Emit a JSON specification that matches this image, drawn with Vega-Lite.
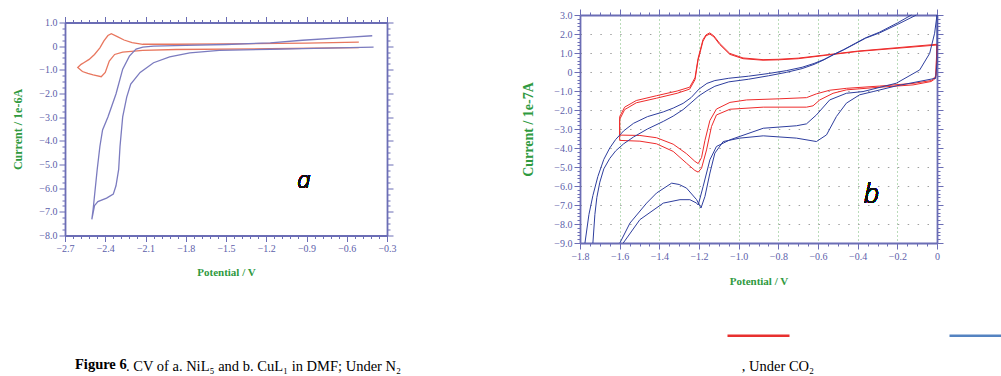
{
"$schema": "https://vega.github.io/schema/vega-lite/v6.json",
"background": "white",
"padding": {"left": 11, "top": 8, "right": 0, "bottom": 0},
"title": {"text": "Figure 6", "orient": "bottom", "anchor": "start", "frame": "group", "font": "Liberation Serif", "fontSize": 14.5, "fontWeight": "bold", "color": "black", "dx": 10, "dy": -20},
"datasets": {
"a": [
{"c":"aN2","t":"aN2","i":1,"E":-0.51,"I":0.17},{"c":"aN2","t":"aN2","i":2,"E":-0.9,"I":0.13},{"c":"aN2","t":"aN2","i":3,"E":-1.5,"I":0.1},{"c":"aN2","t":"aN2","i":4,"E":-1.87,"I":0.08},{"c":"aN2","t":"aN2","i":5,"E":-2.12,"I":0.08},{"c":"aN2","t":"aN2","i":6,"E":-2.2,"I":0.15},{"c":"aN2","t":"aN2","i":7,"E":-2.26,"I":0.26},{"c":"aN2","t":"aN2","i":8,"E":-2.31,"I":0.4},{"c":"aN2","t":"aN2","i":9,"E":-2.355,"I":0.53},{"c":"aN2","t":"aN2","i":10,"E":-2.38,"I":0.45},{"c":"aN2","t":"aN2","i":11,"E":-2.41,"I":0.22},{"c":"aN2","t":"aN2","i":12,"E":-2.44,"I":-0.07},{"c":"aN2","t":"aN2","i":13,"E":-2.48,"I":-0.35},{"c":"aN2","t":"aN2","i":14,"E":-2.52,"I":-0.56},{"c":"aN2","t":"aN2","i":15,"E":-2.56,"I":-0.7},{"c":"aN2","t":"aN2","i":16,"E":-2.58,"I":-0.77},{"c":"aN2","t":"aN2","i":17,"E":-2.605,"I":-0.9},{"c":"aN2","t":"aN2","i":18,"E":-2.57,"I":-1.07},{"c":"aN2","t":"aN2","i":19,"E":-2.53,"I":-1.15},{"c":"aN2","t":"aN2","i":20,"E":-2.49,"I":-1.21},{"c":"aN2","t":"aN2","i":21,"E":-2.43,"I":-1.29},{"c":"aN2","t":"aN2","i":22,"E":-2.4,"I":-1.11},{"c":"aN2","t":"aN2","i":23,"E":-2.37,"I":-0.63},{"c":"aN2","t":"aN2","i":24,"E":-2.33,"I":-0.35},{"c":"aN2","t":"aN2","i":25,"E":-2.27,"I":-0.25},{"c":"aN2","t":"aN2","i":26,"E":-2.12,"I":-0.18},{"c":"aN2","t":"aN2","i":27,"E":-1.87,"I":-0.14},{"c":"aN2","t":"aN2","i":28,"E":-1.17,"I":-0.11},{"c":"aN2","t":"aN2","i":29,"E":-0.68,"I":-0.07},{"c":"aN2","t":"aN2","i":30,"E":-0.51,"I":-0.06},
{"c":"aCO2","t":"aCO2","i":1,"E":-0.41,"I":0.44},{"c":"aCO2","t":"aCO2","i":2,"E":-0.6,"I":0.37},{"c":"aCO2","t":"aCO2","i":3,"E":-0.93,"I":0.25},{"c":"aCO2","t":"aCO2","i":4,"E":-1.17,"I":0.14},{"c":"aCO2","t":"aCO2","i":5,"E":-1.5,"I":0.07},{"c":"aCO2","t":"aCO2","i":6,"E":-1.8,"I":0.03},{"c":"aCO2","t":"aCO2","i":7,"E":-2.04,"I":0.0},{"c":"aCO2","t":"aCO2","i":8,"E":-2.12,"I":-0.04},{"c":"aCO2","t":"aCO2","i":9,"E":-2.17,"I":-0.12},{"c":"aCO2","t":"aCO2","i":10,"E":-2.22,"I":-0.42},{"c":"aCO2","t":"aCO2","i":11,"E":-2.27,"I":-0.97},{"c":"aCO2","t":"aCO2","i":12,"E":-2.32,"I":-2.02},{"c":"aCO2","t":"aCO2","i":13,"E":-2.38,"I":-2.99},{"c":"aCO2","t":"aCO2","i":14,"E":-2.42,"I":-3.54},{"c":"aCO2","t":"aCO2","i":15,"E":-2.44,"I":-4.24},{"c":"aCO2","t":"aCO2","i":16,"E":-2.46,"I":-5.21},{"c":"aCO2","t":"aCO2","i":17,"E":-2.48,"I":-6.32},{"c":"aCO2","t":"aCO2","i":18,"E":-2.49,"I":-6.88},{"c":"aCO2","t":"aCO2","i":19,"E":-2.5,"I":-7.32},{"c":"aCO2","t":"aCO2","i":20,"E":-2.48,"I":-6.74},{"c":"aCO2","t":"aCO2","i":21,"E":-2.455,"I":-6.57},{"c":"aCO2","t":"aCO2","i":22,"E":-2.39,"I":-6.42},{"c":"aCO2","t":"aCO2","i":23,"E":-2.34,"I":-6.25},{"c":"aCO2","t":"aCO2","i":24,"E":-2.32,"I":-5.9},{"c":"aCO2","t":"aCO2","i":25,"E":-2.3,"I":-5.21},{"c":"aCO2","t":"aCO2","i":26,"E":-2.29,"I":-4.24},{"c":"aCO2","t":"aCO2","i":27,"E":-2.27,"I":-2.99},{"c":"aCO2","t":"aCO2","i":28,"E":-2.24,"I":-2.15},{"c":"aCO2","t":"aCO2","i":29,"E":-2.21,"I":-1.6},{"c":"aCO2","t":"aCO2","i":30,"E":-2.14,"I":-1.11},{"c":"aCO2","t":"aCO2","i":31,"E":-2.04,"I":-0.7},{"c":"aCO2","t":"aCO2","i":32,"E":-1.92,"I":-0.45},{"c":"aCO2","t":"aCO2","i":33,"E":-1.77,"I":-0.28},{"c":"aCO2","t":"aCO2","i":34,"E":-1.55,"I":-0.18},{"c":"aCO2","t":"aCO2","i":35,"E":-1.17,"I":-0.13},{"c":"aCO2","t":"aCO2","i":36,"E":-0.93,"I":-0.1},{"c":"aCO2","t":"aCO2","i":37,"E":-0.4,"I":-0.04}
],
"b": [
{"c":"bN2","t":"bN2a","i":1,"E":0,"I":1.46},{"c":"bN2","t":"bN2a","i":2,"E":-0.2,"I":1.28},{"c":"bN2","t":"bN2a","i":3,"E":-0.4,"I":1.1},{"c":"bN2","t":"bN2a","i":4,"E":-0.56,"I":0.9},{"c":"bN2","t":"bN2a","i":5,"E":-0.7,"I":0.73},{"c":"bN2","t":"bN2a","i":6,"E":-0.8,"I":0.67},{"c":"bN2","t":"bN2a","i":7,"E":-0.877,"I":0.65},{"c":"bN2","t":"bN2a","i":8,"E":-0.978,"I":0.74},{"c":"bN2","t":"bN2a","i":9,"E":-1.045,"I":0.98},{"c":"bN2","t":"bN2a","i":10,"E":-1.096,"I":1.51},{"c":"bN2","t":"bN2a","i":11,"E":-1.125,"I":1.9},{"c":"bN2","t":"bN2a","i":12,"E":-1.146,"I":2.06},{"c":"bN2","t":"bN2a","i":13,"E":-1.165,"I":1.95},{"c":"bN2","t":"bN2a","i":14,"E":-1.18,"I":1.7},{"c":"bN2","t":"bN2a","i":15,"E":-1.205,"I":0.7},{"c":"bN2","t":"bN2a","i":16,"E":-1.22,"I":-0.3},{"c":"bN2","t":"bN2a","i":17,"E":-1.247,"I":-0.8},{"c":"bN2","t":"bN2a","i":18,"E":-1.31,"I":-1.0},{"c":"bN2","t":"bN2a","i":19,"E":-1.415,"I":-1.25},{"c":"bN2","t":"bN2a","i":20,"E":-1.516,"I":-1.5},{"c":"bN2","t":"bN2a","i":21,"E":-1.575,"I":-1.85},{"c":"bN2","t":"bN2a","i":22,"E":-1.6,"I":-2.35},{"c":"bN2","t":"bN2a","i":23,"E":-1.6,"I":-3.32},{"c":"bN2","t":"bN2a","i":24,"E":-1.498,"I":-3.34},{"c":"bN2","t":"bN2a","i":25,"E":-1.414,"I":-3.46},{"c":"bN2","t":"bN2a","i":26,"E":-1.33,"I":-3.8},{"c":"bN2","t":"bN2a","i":27,"E":-1.263,"I":-4.3},{"c":"bN2","t":"bN2a","i":28,"E":-1.221,"I":-4.7},{"c":"bN2","t":"bN2a","i":29,"E":-1.204,"I":-4.82},{"c":"bN2","t":"bN2a","i":30,"E":-1.187,"I":-4.5},{"c":"bN2","t":"bN2a","i":31,"E":-1.17,"I":-3.6},{"c":"bN2","t":"bN2a","i":32,"E":-1.145,"I":-2.55},{"c":"bN2","t":"bN2a","i":33,"E":-1.112,"I":-1.95},{"c":"bN2","t":"bN2a","i":34,"E":-1.044,"I":-1.6},{"c":"bN2","t":"bN2a","i":35,"E":-0.96,"I":-1.47},{"c":"bN2","t":"bN2a","i":36,"E":-0.793,"I":-1.41},{"c":"bN2","t":"bN2a","i":37,"E":-0.658,"I":-1.35},{"c":"bN2","t":"bN2a","i":38,"E":-0.608,"I":-1.15},{"c":"bN2","t":"bN2a","i":39,"E":-0.541,"I":-0.96},{"c":"bN2","t":"bN2a","i":40,"E":-0.457,"I":-0.86},{"c":"bN2","t":"bN2a","i":41,"E":-0.289,"I":-0.74},{"c":"bN2","t":"bN2a","i":42,"E":-0.121,"I":-0.6},{"c":"bN2","t":"bN2a","i":43,"E":-0.029,"I":-0.45},{"c":"bN2","t":"bN2a","i":44,"E":-0.005,"I":-0.2},{"c":"bN2","t":"bN2a","i":45,"E":0,"I":1.46},
{"c":"bN2","t":"bN2b","i":1,"E":0,"I":1.42},{"c":"bN2","t":"bN2b","i":2,"E":-0.2,"I":1.25},{"c":"bN2","t":"bN2b","i":3,"E":-0.4,"I":1.08},{"c":"bN2","t":"bN2b","i":4,"E":-0.56,"I":0.88},{"c":"bN2","t":"bN2b","i":5,"E":-0.7,"I":0.7},{"c":"bN2","t":"bN2b","i":6,"E":-0.8,"I":0.64},{"c":"bN2","t":"bN2b","i":7,"E":-0.877,"I":0.62},{"c":"bN2","t":"bN2b","i":8,"E":-0.978,"I":0.7},{"c":"bN2","t":"bN2b","i":9,"E":-1.045,"I":0.93},{"c":"bN2","t":"bN2b","i":10,"E":-1.096,"I":1.45},{"c":"bN2","t":"bN2b","i":11,"E":-1.125,"I":1.85},{"c":"bN2","t":"bN2b","i":12,"E":-1.146,"I":2.0},{"c":"bN2","t":"bN2b","i":13,"E":-1.165,"I":1.9},{"c":"bN2","t":"bN2b","i":14,"E":-1.18,"I":1.62},{"c":"bN2","t":"bN2b","i":15,"E":-1.205,"I":0.6},{"c":"bN2","t":"bN2b","i":16,"E":-1.22,"I":-0.4},{"c":"bN2","t":"bN2b","i":17,"E":-1.247,"I":-0.9},{"c":"bN2","t":"bN2b","i":18,"E":-1.31,"I":-1.12},{"c":"bN2","t":"bN2b","i":19,"E":-1.415,"I":-1.38},{"c":"bN2","t":"bN2b","i":20,"E":-1.516,"I":-1.62},{"c":"bN2","t":"bN2b","i":21,"E":-1.575,"I":-1.98},{"c":"bN2","t":"bN2b","i":22,"E":-1.6,"I":-2.5},{"c":"bN2","t":"bN2b","i":23,"E":-1.6,"I":-3.6},{"c":"bN2","t":"bN2b","i":24,"E":-1.498,"I":-3.64},{"c":"bN2","t":"bN2b","i":25,"E":-1.414,"I":-3.78},{"c":"bN2","t":"bN2b","i":26,"E":-1.33,"I":-4.18},{"c":"bN2","t":"bN2b","i":27,"E":-1.263,"I":-4.8},{"c":"bN2","t":"bN2b","i":28,"E":-1.221,"I":-5.18},{"c":"bN2","t":"bN2b","i":29,"E":-1.204,"I":-5.27},{"c":"bN2","t":"bN2b","i":30,"E":-1.187,"I":-5.06},{"c":"bN2","t":"bN2b","i":31,"E":-1.162,"I":-4.1},{"c":"bN2","t":"bN2b","i":32,"E":-1.137,"I":-2.87},{"c":"bN2","t":"bN2b","i":33,"E":-1.112,"I":-2.26},{"c":"bN2","t":"bN2b","i":34,"E":-1.044,"I":-1.96},{"c":"bN2","t":"bN2b","i":35,"E":-0.876,"I":-1.85},{"c":"bN2","t":"bN2b","i":36,"E":-0.658,"I":-1.85},{"c":"bN2","t":"bN2b","i":37,"E":-0.625,"I":-1.78},{"c":"bN2","t":"bN2b","i":38,"E":-0.591,"I":-1.47},{"c":"bN2","t":"bN2b","i":39,"E":-0.524,"I":-1.12},{"c":"bN2","t":"bN2b","i":40,"E":-0.457,"I":-0.94},{"c":"bN2","t":"bN2b","i":41,"E":-0.289,"I":-0.8},{"c":"bN2","t":"bN2b","i":42,"E":-0.121,"I":-0.68},{"c":"bN2","t":"bN2b","i":43,"E":-0.029,"I":-0.5},{"c":"bN2","t":"bN2b","i":44,"E":-0.007,"I":-0.33},{"c":"bN2","t":"bN2b","i":45,"E":0,"I":1.42},
{"c":"bCO2","t":"bt1","i":1,"E":-0.104,"I":3.0},{"c":"bCO2","t":"bt1","i":2,"E":-0.2,"I":2.5},{"c":"bCO2","t":"bt1","i":3,"E":-0.289,"I":2.06},{"c":"bCO2","t":"bt1","i":4,"E":-0.36,"I":1.78},{"c":"bCO2","t":"bt1","i":5,"E":-0.41,"I":1.5},{"c":"bCO2","t":"bt1","i":6,"E":-0.47,"I":1.17},{"c":"bCO2","t":"bt1","i":7,"E":-0.52,"I":0.92},{"c":"bCO2","t":"bt1","i":8,"E":-0.57,"I":0.66},{"c":"bCO2","t":"bt1","i":9,"E":-0.62,"I":0.45},{"c":"bCO2","t":"bt1","i":10,"E":-0.68,"I":0.25},{"c":"bCO2","t":"bt1","i":11,"E":-0.76,"I":0.07},{"c":"bCO2","t":"bt1","i":12,"E":-0.85,"I":-0.08},{"c":"bCO2","t":"bt1","i":13,"E":-0.95,"I":-0.22},{"c":"bCO2","t":"bt1","i":14,"E":-1.05,"I":-0.33},{"c":"bCO2","t":"bt1","i":15,"E":-1.12,"I":-0.45},{"c":"bCO2","t":"bt1","i":16,"E":-1.16,"I":-0.6},{"c":"bCO2","t":"bt1","i":17,"E":-1.2,"I":-0.9},{"c":"bCO2","t":"bt1","i":18,"E":-1.24,"I":-1.35},{"c":"bCO2","t":"bt1","i":19,"E":-1.28,"I":-1.65},{"c":"bCO2","t":"bt1","i":20,"E":-1.33,"I":-1.9},{"c":"bCO2","t":"bt1","i":21,"E":-1.38,"I":-2.1},{"c":"bCO2","t":"bt1","i":22,"E":-1.46,"I":-2.35},{"c":"bCO2","t":"bt1","i":23,"E":-1.53,"I":-2.7},{"c":"bCO2","t":"bt1","i":24,"E":-1.58,"I":-3.1},{"c":"bCO2","t":"bt1","i":25,"E":-1.62,"I":-3.55},{"c":"bCO2","t":"bt1","i":26,"E":-1.65,"I":-4.0},{"c":"bCO2","t":"bt1","i":27,"E":-1.68,"I":-4.6},{"c":"bCO2","t":"bt1","i":28,"E":-1.71,"I":-5.5},{"c":"bCO2","t":"bt1","i":29,"E":-1.735,"I":-6.5},{"c":"bCO2","t":"bt1","i":30,"E":-1.755,"I":-7.5},{"c":"bCO2","t":"bt1","i":31,"E":-1.775,"I":-9.0},
{"c":"bCO2","t":"bt2","i":1,"E":-0.129,"I":3.0},{"c":"bCO2","t":"bt2","i":2,"E":-0.2,"I":2.58},{"c":"bCO2","t":"bt2","i":3,"E":-0.289,"I":2.1},{"c":"bCO2","t":"bt2","i":4,"E":-0.36,"I":1.8},{"c":"bCO2","t":"bt2","i":5,"E":-0.41,"I":1.52},{"c":"bCO2","t":"bt2","i":6,"E":-0.47,"I":1.18},{"c":"bCO2","t":"bt2","i":7,"E":-0.52,"I":0.93},{"c":"bCO2","t":"bt2","i":8,"E":-0.57,"I":0.64},{"c":"bCO2","t":"bt2","i":9,"E":-0.62,"I":0.4},{"c":"bCO2","t":"bt2","i":10,"E":-0.68,"I":0.18},{"c":"bCO2","t":"bt2","i":11,"E":-0.76,"I":-0.02},{"c":"bCO2","t":"bt2","i":12,"E":-0.85,"I":-0.2},{"c":"bCO2","t":"bt2","i":13,"E":-0.95,"I":-0.38},{"c":"bCO2","t":"bt2","i":14,"E":-1.05,"I":-0.52},{"c":"bCO2","t":"bt2","i":15,"E":-1.12,"I":-0.75},{"c":"bCO2","t":"bt2","i":16,"E":-1.16,"I":-0.98},{"c":"bCO2","t":"bt2","i":17,"E":-1.2,"I":-1.25},{"c":"bCO2","t":"bt2","i":18,"E":-1.24,"I":-1.62},{"c":"bCO2","t":"bt2","i":19,"E":-1.28,"I":-1.98},{"c":"bCO2","t":"bt2","i":20,"E":-1.33,"I":-2.32},{"c":"bCO2","t":"bt2","i":21,"E":-1.38,"I":-2.6},{"c":"bCO2","t":"bt2","i":22,"E":-1.46,"I":-3.0},{"c":"bCO2","t":"bt2","i":23,"E":-1.53,"I":-3.42},{"c":"bCO2","t":"bt2","i":24,"E":-1.58,"I":-3.78},{"c":"bCO2","t":"bt2","i":25,"E":-1.62,"I":-4.15},{"c":"bCO2","t":"bt2","i":26,"E":-1.65,"I":-4.55},{"c":"bCO2","t":"bt2","i":27,"E":-1.68,"I":-5.1},{"c":"bCO2","t":"bt2","i":28,"E":-1.7,"I":-5.8},{"c":"bCO2","t":"bt2","i":29,"E":-1.715,"I":-6.6},{"c":"bCO2","t":"bt2","i":30,"E":-1.725,"I":-7.5},{"c":"bCO2","t":"bt2","i":31,"E":-1.735,"I":-9.0},
{"c":"bCO2","t":"bb1","i":1,"E":-1.599,"I":-9.0},{"c":"bCO2","t":"bb1","i":2,"E":-1.548,"I":-7.95},{"c":"bCO2","t":"bb1","i":3,"E":-1.464,"I":-6.9},{"c":"bCO2","t":"bb1","i":4,"E":-1.414,"I":-6.37},{"c":"bCO2","t":"bb1","i":5,"E":-1.338,"I":-5.85},{"c":"bCO2","t":"bb1","i":6,"E":-1.3,"I":-5.92},{"c":"bCO2","t":"bb1","i":7,"E":-1.263,"I":-6.11},{"c":"bCO2","t":"bb1","i":8,"E":-1.212,"I":-6.72},{"c":"bCO2","t":"bb1","i":9,"E":-1.19,"I":-7.16},{"c":"bCO2","t":"bb1","i":10,"E":-1.17,"I":-6.55},{"c":"bCO2","t":"bb1","i":11,"E":-1.145,"I":-5.32},{"c":"bCO2","t":"bb1","i":12,"E":-1.12,"I":-4.27},{"c":"bCO2","t":"bb1","i":13,"E":-1.078,"I":-3.66},{"c":"bCO2","t":"bb1","i":14,"E":-0.994,"I":-3.48},{"c":"bCO2","t":"bb1","i":15,"E":-0.876,"I":-3.36},{"c":"bCO2","t":"bb1","i":16,"E":-0.709,"I":-3.48},{"c":"bCO2","t":"bb1","i":17,"E":-0.608,"I":-3.66},{"c":"bCO2","t":"bb1","i":18,"E":-0.557,"I":-3.31},{"c":"bCO2","t":"bb1","i":19,"E":-0.507,"I":-2.34},{"c":"bCO2","t":"bb1","i":20,"E":-0.457,"I":-1.64},{"c":"bCO2","t":"bb1","i":21,"E":-0.39,"I":-1.2},{"c":"bCO2","t":"bb1","i":22,"E":-0.322,"I":-1.03},{"c":"bCO2","t":"bb1","i":23,"E":-0.205,"I":-0.73},{"c":"bCO2","t":"bb1","i":24,"E":-0.007,"I":-0.33},{"c":"bCO2","t":"bb1","i":25,"E":0,"I":0.5},{"c":"bCO2","t":"bb1","i":26,"E":0,"I":3.0},
{"c":"bCO2","t":"bb2","i":1,"E":-1.582,"I":-9.0},{"c":"bCO2","t":"bb2","i":2,"E":-1.498,"I":-7.77},{"c":"bCO2","t":"bb2","i":3,"E":-1.38,"I":-6.9},{"c":"bCO2","t":"bb2","i":4,"E":-1.296,"I":-6.72},{"c":"bCO2","t":"bb2","i":5,"E":-1.246,"I":-6.72},{"c":"bCO2","t":"bb2","i":6,"E":-1.212,"I":-6.9},{"c":"bCO2","t":"bb2","i":7,"E":-1.204,"I":-7.0},{"c":"bCO2","t":"bb2","i":8,"E":-1.179,"I":-6.02},{"c":"bCO2","t":"bb2","i":9,"E":-1.145,"I":-4.62},{"c":"bCO2","t":"bb2","i":10,"E":-1.112,"I":-3.92},{"c":"bCO2","t":"bb2","i":11,"E":-1.044,"I":-3.57},{"c":"bCO2","t":"bb2","i":12,"E":-0.876,"I":-2.96},{"c":"bCO2","t":"bb2","i":13,"E":-0.709,"I":-2.83},{"c":"bCO2","t":"bb2","i":14,"E":-0.658,"I":-2.73},{"c":"bCO2","t":"bb2","i":15,"E":-0.608,"I":-2.26},{"c":"bCO2","t":"bb2","i":16,"E":-0.541,"I":-1.47},{"c":"bCO2","t":"bb2","i":17,"E":-0.457,"I":-1.12},{"c":"bCO2","t":"bb2","i":18,"E":-0.373,"I":-1.03},{"c":"bCO2","t":"bb2","i":19,"E":-0.205,"I":-0.59},{"c":"bCO2","t":"bb2","i":20,"E":-0.087,"I":0.11},{"c":"bCO2","t":"bb2","i":21,"E":-0.037,"I":0.98},{"c":"bCO2","t":"bb2","i":22,"E":-0.012,"I":2.04},{"c":"bCO2","t":"bb2","i":23,"E":0,"I":3.0}
]
},
"vconcat": [{
"title": {"text": ". CV of a. NiL₅ and b. CuL₁ in DMF; Under N₂\u2003\u2003\u2003\u2003\u2003\u2003\u2003\u2003\u2003\u2003\u2003\u2003\u2003\u2003\u2003\u2003\u2003\u2003\u2003\u2003\u2003\u2003\u2003\u2002, Under CO₂", "orient": "bottom", "anchor": "start", "frame": "group", "font": "Liberation Serif", "fontSize": 14.5, "fontWeight": "normal", "color": "black", "dx": 61, "dy": 70},
"hconcat": [
{
"width": 322, "height": 213,
"data": {"name": "a"},
"layer": [
{"mark": {"type": "line", "strokeWidth": 1.3},
 "encoding": {
  "x": {"field": "E", "type": "quantitative", "scale": {"domain": [-2.7, -0.3], "nice": false, "zero": false},
   "axis": {"orient": "bottom", "title": "Potential / V", "titleFontSize": 11, "titlePadding": 13,
    "values": [-2.7,-2.64,-2.58,-2.52,-2.46,-2.4,-2.34,-2.28,-2.22,-2.16,-2.1,-2.04,-1.98,-1.92,-1.86,-1.8,-1.74,-1.68,-1.62,-1.56,-1.5,-1.44,-1.38,-1.32,-1.26,-1.2,-1.14,-1.08,-1.02,-0.96,-0.9,-0.84,-0.78,-0.72,-0.66,-0.6,-0.54,-0.48,-0.42,-0.36,-0.3],
    "labelExpr": "abs(datum.value*10 - round(datum.value*10)) < 0.01 && abs(round(datum.value*10)) % 3 == 0 ? format(datum.value, '.1f') : ''",
    "tickSize": {"condition": {"test": "abs(datum.value*10 - round(datum.value*10)) < 0.01 && abs(round(datum.value*10)) % 3 == 0", "value": 6}, "value": 3}}},
  "y": {"field": "I", "type": "quantitative", "scale": {"domain": [-8, 1], "nice": false, "zero": false},
   "axis": {"orient": "left", "title": "Current / 1e-6A", "titleFontSize": 12, "titlePadding": 14,
    "values": [-8,-7.75,-7.5,-7.25,-7,-6.75,-6.5,-6.25,-6,-5.75,-5.5,-5.25,-5,-4.75,-4.5,-4.25,-4,-3.75,-3.5,-3.25,-3,-2.75,-2.5,-2.25,-2,-1.75,-1.5,-1.25,-1,-0.75,-0.5,-0.25,0,0.25,0.5,0.75,1],
    "labelExpr": "abs(datum.value - round(datum.value)) < 0.01 ? (abs(datum.value) < 0.001 ? '0' : format(datum.value, '.1f')) : ''",
    "tickSize": {"condition": {"test": "abs(datum.value - round(datum.value)) < 0.01", "value": 6}, "value": 3}}},
  "color": {"field": "c", "type": "nominal",
   "scale": {"domain": ["aN2", "aCO2", "bN2", "bCO2", "Under N₂", "Under CO₂"], "range": ["#e8775f", "#7b7bbf", "#ee2b2b", "#2e3e9e", "#e8302f", "#5483c1"]},
   "legend": {"values": ["Under N₂", "Under CO₂"], "orient": "none", "legendX": 661, "legendY": 288, "direction": "horizontal", "title": null, "symbolType": "stroke", "symbolSize": 3844, "symbolStrokeWidth": 2.5, "labelExpr": "''", "labelOffset": 0, "columnPadding": 149, "padding": 0, "symbolOffset": 0}},
  "detail": {"field": "t"},
  "order": {"field": "i", "type": "quantitative"}
 }},
{"mark": {"type": "text", "font": "Open Sans", "fontStyle": "italic", "fontWeight": 300, "fontSize": 24, "baseline": "alphabetic", "align": "center", "color": "#111111"},
 "encoding": {
  "x": {"datum": -0.92, "type": "quantitative", "axis": {"orient": "top", "title": null, "labels": false,
    "values": [-2.7,-2.64,-2.58,-2.52,-2.46,-2.4,-2.34,-2.28,-2.22,-2.16,-2.1,-2.04,-1.98,-1.92,-1.86,-1.8,-1.74,-1.68,-1.62,-1.56,-1.5,-1.44,-1.38,-1.32,-1.26,-1.2,-1.14,-1.08,-1.02,-0.96,-0.9,-0.84,-0.78,-0.72,-0.66,-0.6,-0.54,-0.48,-0.42,-0.36,-0.3],
    "tickSize": {"condition": {"test": "abs(datum.value*10 - round(datum.value*10)) < 0.01 && abs(round(datum.value*10)) % 3 == 0", "value": 6}, "value": 3}}},
  "y": {"datum": -6.0, "type": "quantitative", "axis": {"orient": "right", "title": null, "labels": false,
    "values": [-8,-7.75,-7.5,-7.25,-7,-6.75,-6.5,-6.25,-6,-5.75,-5.5,-5.25,-5,-4.75,-4.5,-4.25,-4,-3.75,-3.5,-3.25,-3,-2.75,-2.5,-2.25,-2,-1.75,-1.5,-1.25,-1,-0.75,-0.5,-0.25,0,0.25,0.5,0.75,1],
    "tickSize": {"condition": {"test": "abs(datum.value - round(datum.value)) < 0.01", "value": 6}, "value": 3}}},
  "text": {"value": "a"}
 }}
],
"resolve": {"axis": {"x": "independent", "y": "independent"}}
},
{
"width": 357, "height": 228,
"data": {"name": "b"},
"layer": [
{"mark": {"type": "line", "strokeWidth": 1},
 "encoding": {
  "x": {"field": "E", "type": "quantitative", "scale": {"domain": [-1.8, 0], "nice": false, "zero": false},
   "axis": {"orient": "bottom", "title": "Potential / V", "titleFontSize": 11, "titlePadding": 14, "tickCount": 36,
    "labelExpr": "abs(round(datum.value*100)) % 20 == 0 ? (abs(datum.value) < 0.001 ? '0' : format(datum.value, '.1f')) : ''",
    "tickSize": {"condition": {"test": "abs(round(datum.value*100)) % 20 == 0", "value": 6}, "value": 3},
    "grid": true, "gridColor": "#74b874", "gridDash": [1, 3],
    "gridOpacity": {"condition": {"test": "abs(round(datum.value*100)) % 20 == 0 && datum.value > -1.79 && datum.value < -0.01", "value": 1}, "value": 0}}},
  "y": {"field": "I", "type": "quantitative", "scale": {"domain": [-9, 3], "nice": false, "zero": false},
   "axis": {"orient": "left", "title": "Current / 1e-7A", "titleFontSize": 14, "titlePadding": 18, "tickCount": 60,
    "labelExpr": "abs(datum.value - round(datum.value)) < 0.01 ? (abs(datum.value) < 0.001 ? '0' : format(datum.value, '.1f')) : ''",
    "tickSize": {"condition": {"test": "abs(datum.value - round(datum.value)) < 0.01", "value": 6}, "value": 3},
    "grid": true, "gridColor": "#a0a0a0", "gridDash": [1.5, 8.415],
    "gridOpacity": {"condition": {"test": "abs(datum.value - round(datum.value)) < 0.01 && datum.value > -8.99 && datum.value < 2.99", "value": 1}, "value": 0}}},
  "color": {"field": "c", "type": "nominal",
   "scale": {"domain": ["aN2", "aCO2", "bN2", "bCO2", "Under N₂", "Under CO₂"], "range": ["#e8775f", "#7b7bbf", "#ee2b2b", "#2e3e9e", "#e8302f", "#5483c1"]},
   "legend": {"values": ["Under N₂", "Under CO₂"], "orient": "none", "legendX": 661, "legendY": 288, "direction": "horizontal", "title": null, "symbolType": "stroke", "symbolSize": 3844, "symbolStrokeWidth": 2.5, "labelExpr": "''", "labelOffset": 0, "columnPadding": 149, "padding": 0, "symbolOffset": 0}},
  "detail": {"field": "t"},
  "order": {"field": "i", "type": "quantitative"}
 }},
{"mark": {"type": "text", "font": "Open Sans", "fontStyle": "italic", "fontWeight": 300, "fontSize": 27, "baseline": "alphabetic", "align": "center", "color": "#111111"},
 "encoding": {
  "x": {"datum": -0.33, "type": "quantitative", "axis": {"orient": "top", "title": null, "labels": false, "tickCount": 36, "grid": false,
    "tickSize": {"condition": {"test": "abs(round(datum.value*100)) % 20 == 0", "value": 6}, "value": 3}}},
  "y": {"datum": -6.89, "type": "quantitative", "axis": {"orient": "right", "title": null, "labels": false, "tickCount": 60, "grid": false,
    "tickSize": {"condition": {"test": "abs(datum.value - round(datum.value)) < 0.01", "value": 6}, "value": 3}}},
  "text": {"value": "b"}
 }}
],
"resolve": {"axis": {"x": "independent", "y": "independent"}}
}
],
"spacing": 193,
"bounds": "flush",
"center": true
}],
"config": {
 "view": {"stroke": null},
 "axis": {"domainColor": "#6b6db5", "tickColor": "#6b6db5", "domainWidth": 1.8, "tickWidth": 1, "labelColor": "#5c60aa", "labelFont": "Liberation Sans Narrow", "labelFontSize": 10, "labelOverlap": false, "labelFlush": false, "labelBound": false, "labelPadding": 2, "titleColor": "#2f9a3f", "titleFont": "Liberation Serif", "titleFontWeight": "bold", "grid": false}
}
}
